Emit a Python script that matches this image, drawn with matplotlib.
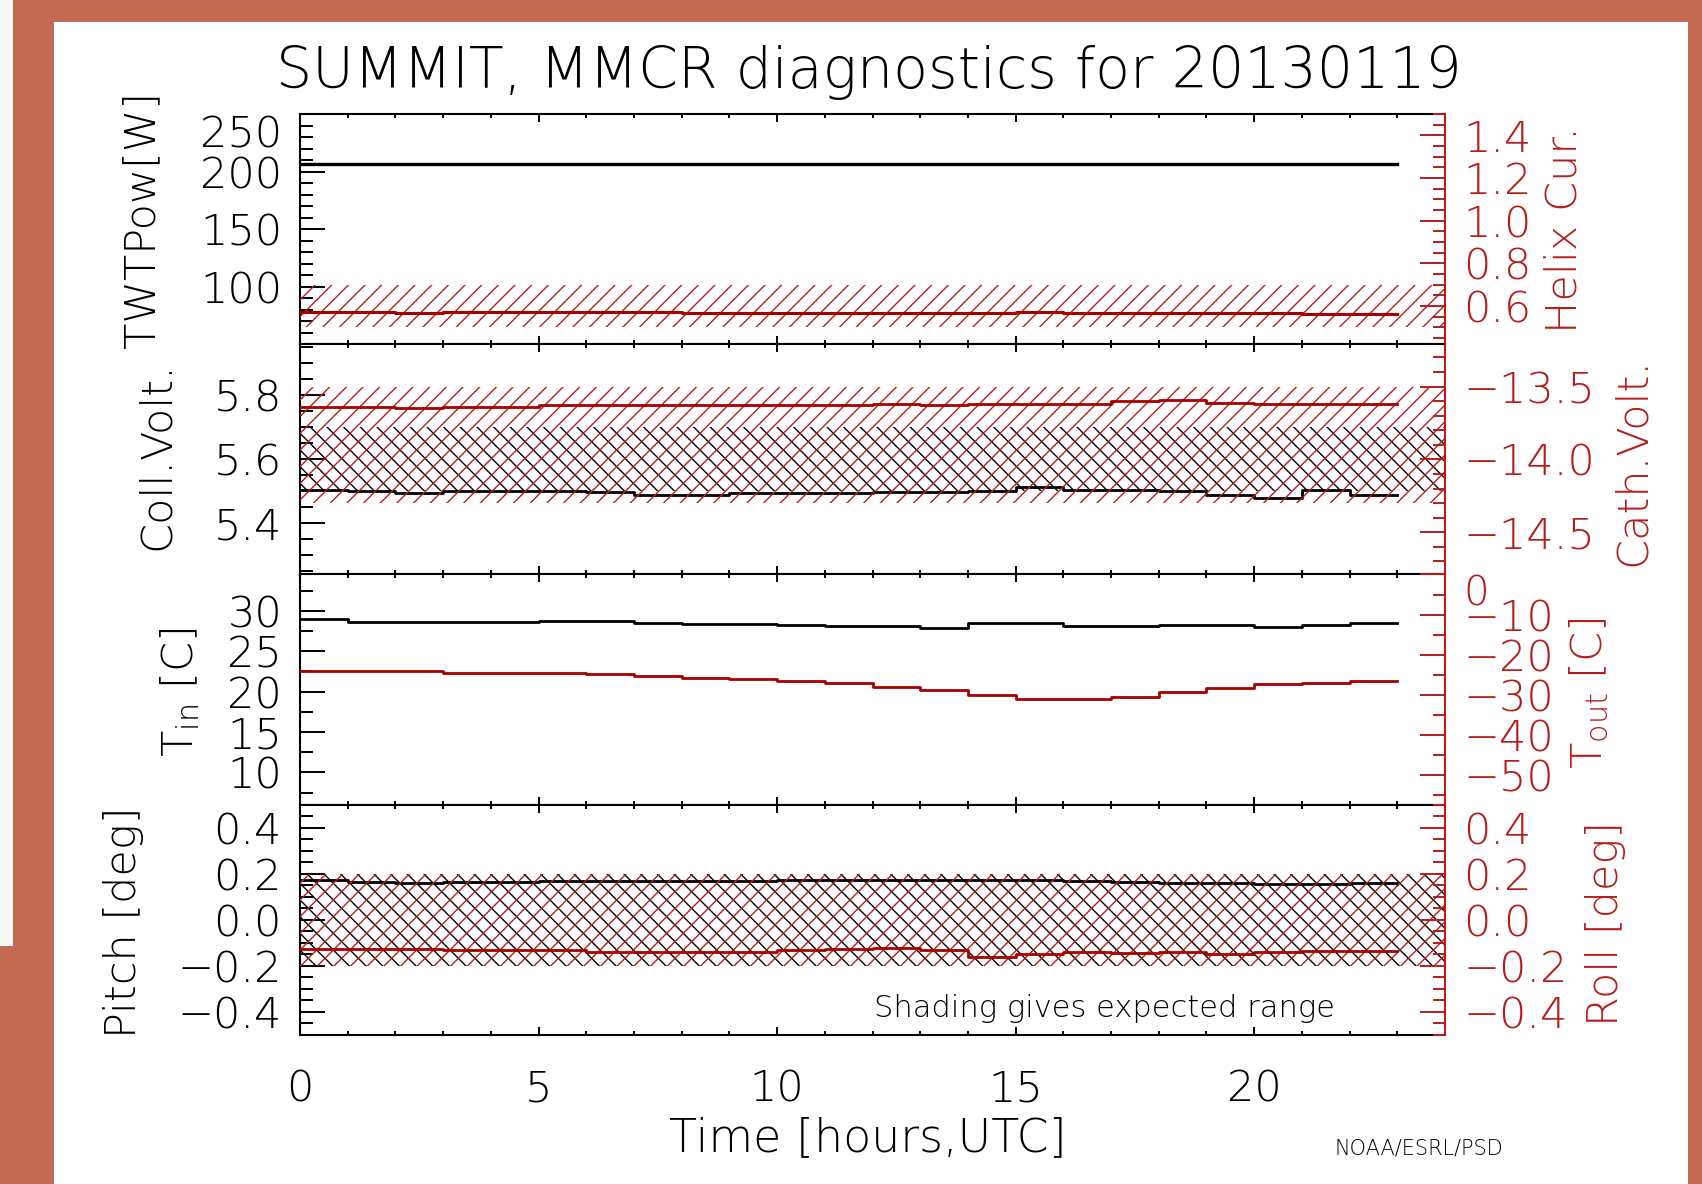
import matplotlib.pyplot as plt
from matplotlib.ticker import MultipleLocator
from matplotlib.patches import Rectangle

plt.rcParams['font.family'] = ['DejaVu Sans']
plt.rcParams['font.weight'] = 'light'
plt.rcParams['hatch.linewidth'] = 1.0

# hourly samples (UTC hour 0..23)
hours = [0, 1, 2, 3, 4, 5, 6, 7, 8, 9, 10, 11, 12, 13, 14, 15, 16, 17, 18, 19, 20, 21, 22, 23]
twt_pow = [207, 207, 207, 207, 207, 207, 207, 207, 207, 207, 207, 207,
           207, 207, 207, 207, 207, 207, 207, 207, 207, 207, 207, 207]
helix_cur = [0.572, 0.572, 0.565, 0.57, 0.57, 0.57, 0.572, 0.57, 0.568, 0.565, 0.565, 0.565,
             0.565, 0.565, 0.568, 0.57, 0.565, 0.565, 0.565, 0.565, 0.565, 0.562, 0.562, 0.562]
coll_volt = [5.505, 5.50, 5.494, 5.50, 5.50, 5.50, 5.498, 5.489, 5.489, 5.495, 5.495, 5.494,
             5.497, 5.497, 5.50, 5.513, 5.505, 5.505, 5.50, 5.49, 5.479, 5.505, 5.49, 5.49]
cath_volt = [-13.64, -13.64, -13.65, -13.64, -13.64, -13.63, -13.63, -13.63, -13.63, -13.63, -13.63, -13.63,
             -13.62, -13.63, -13.62, -13.62, -13.62, -13.60, -13.59, -13.61, -13.62, -13.62, -13.62, -13.62]
t_in = [29.0, 28.6, 28.6, 28.6, 28.6, 28.8, 28.8, 28.5, 28.4, 28.4, 28.3, 28.1,
        28.1, 27.9, 28.5, 28.5, 28.1, 28.1, 28.3, 28.3, 28.0, 28.3, 28.5, 28.5]
t_out = [-24.2, -24.0, -24.0, -24.5, -24.6, -24.7, -24.8, -25.3, -25.8, -26.2, -26.5, -27.2,
         -28.0, -28.9, -30.2, -31.0, -31.2, -30.6, -29.3, -28.3, -27.3, -27.0, -26.7, -26.7]
pitch = [0.172, 0.165, 0.16, 0.165, 0.165, 0.168, 0.168, 0.168, 0.17, 0.17, 0.175, 0.175,
         0.175, 0.172, 0.172, 0.175, 0.17, 0.165, 0.158, 0.16, 0.155, 0.155, 0.158, 0.155]
roll = [-0.125, -0.127, -0.127, -0.13, -0.13, -0.132, -0.14, -0.138, -0.14, -0.14, -0.132, -0.128,
        -0.12, -0.13, -0.16, -0.15, -0.14, -0.145, -0.14, -0.15, -0.14, -0.135, -0.135, -0.135]

# expected ranges (shaded)
helix_range = [0.5, 0.7]
coll_range = [5.5, 5.7]
cath_range = [-14.3, -13.5]
pitch_range = [-0.2, 0.2]
roll_range = [-0.2, 0.2]

RED = '#b51d1d'
LINE_RED = '#a50000'
W, H = 1702, 1184

fig = plt.figure(figsize=(W / 100, H / 100), dpi=100, facecolor='white')

# frame around the picture
def frame_box(x0, y0, x1, y1, color):
    fig.patches.append(Rectangle((x0 / W, 1 - y1 / H), (x1 - x0) / W, (y1 - y0) / H,
                                 transform=fig.transFigure, color=color, zorder=-5, lw=0))

frame_box(0, 0, 13, 946, '#f4faf6')
frame_box(0, 946, 54, H, '#c46a53')
frame_box(13, 0, 54, H, '#c46a53')
frame_box(13, 0, W, 22, '#c46a53')
frame_box(1688, 0, W, H, '#c46a53')

gs = fig.add_gridspec(4, 1, left=300 / W, right=1445 / W, bottom=1 - 1035 / H, top=1 - 114 / H, hspace=0)


def setup(ax, ax2, ylim, yticks, ylabels, yminor, ylim2, yticks2, ylabels2, yminor2):
    ax.set_xlim(0, 24)
    ax.xaxis.set_major_locator(MultipleLocator(5))
    ax.xaxis.set_minor_locator(MultipleLocator(1))
    ax.tick_params(axis='x', which='both', direction='in', top=True, bottom=True, width=1.4)
    ax.tick_params(axis='x', which='major', length=6)
    ax.tick_params(axis='x', which='minor', length=3)
    ax.set_ylim(ylim)
    ax.set_yticks(yticks, ylabels)
    ax.yaxis.set_minor_locator(MultipleLocator(yminor))
    ax.tick_params(axis='y', which='both', direction='in', labelsize=31, pad=13, width=1.4)
    ax.tick_params(axis='y', which='major', length=18)
    ax.tick_params(axis='y', which='minor', length=9)
    ax.spines['right'].set_visible(False)
    for s in ['left', 'top', 'bottom']:
        ax.spines[s].set_linewidth(1.5)
    ax2.set_ylim(ylim2)
    ax2.set_yticks(yticks2, ylabels2)
    ax2.yaxis.set_minor_locator(MultipleLocator(yminor2))
    ax2.tick_params(axis='y', which='both', direction='in', labelsize=31, pad=13, width=1.4,
                    color=RED, labelcolor=RED)
    ax2.tick_params(axis='y', which='major', length=18)
    ax2.tick_params(axis='y', which='minor', length=9)
    for s in ['left', 'top', 'bottom']:
        ax2.spines[s].set_visible(False)
    ax2.spines['right'].set_color(RED)
    ax2.spines['right'].set_linewidth(1.5)
    ax.tick_params(axis='x', labelbottom=False)


M = '\u2212'

# panel 1: TWT power / helix current
ax1 = fig.add_subplot(gs[0])
ax1b = ax1.twinx()
setup(ax1, ax1b, (50, 250), [50, 100, 150, 200, 250], ['', '100', '150', '200', '250'], 10,
      (0.42, 1.5), [0.6, 0.8, 1.0, 1.2, 1.4], ['0.6', '0.8', '1.0', '1.2', '1.4'], 0.05)
ax1.plot(hours, twt_pow, color='black', lw=2.4, drawstyle='steps-post')
ax1b.fill_between([0, 24], helix_range[0], helix_range[1], facecolor='none', edgecolor=RED, hatch='//', lw=0)
ax1b.plot(hours, helix_cur, color=LINE_RED, lw=2.2, drawstyle='steps-post')
ax1.yaxis.get_major_ticks()[-1].label1.set_va('top')

# panel 2: collector / cathode voltage
ax2 = fig.add_subplot(gs[1], sharex=ax1)
ax2b = ax2.twinx()
setup(ax2, ax2b, (5.24, 5.96), [5.4, 5.6, 5.8], ['5.4', '5.6', '5.8'], 0.05,
      (-14.79, -13.21), [-14.5, -14.0, -13.5], [M + '14.5', M + '14.0', M + '13.5'], 0.1)
ax2.fill_between([0, 24], coll_range[0], coll_range[1], facecolor='none', edgecolor='black', hatch='\\\\', lw=0)
ax2.plot(hours, coll_volt, color='black', lw=2.0, drawstyle='steps-post')
ax2b.fill_between([0, 24], cath_range[0], cath_range[1], facecolor='none', edgecolor=RED, hatch='//', lw=0)
ax2b.plot(hours, cath_volt, color=LINE_RED, lw=2.0, drawstyle='steps-post')

# panel 3: inside / outside temperature
ax3 = fig.add_subplot(gs[2], sharex=ax1)
ax3b = ax3.twinx()
setup(ax3, ax3b, (6, 34.5), [10, 15, 20, 25, 30], ['10', '15', '20', '25', '30'], 2.5,
      (-57.5, 0), [-50, -40, -30, -20, -10, 0], [M + '50', M + '40', M + '30', M + '20', M + '10', '0'], 5)
ax3.plot(hours, t_in, color='black', lw=2.0, drawstyle='steps-post')
ax3b.plot(hours, t_out, color=LINE_RED, lw=2.0, drawstyle='steps-post')
top_zero = ax3b.yaxis.get_major_ticks()[-1].label2
top_zero.set_va('top')
top_zero.set_fontsize(29)

# panel 4: pitch / roll
ax4 = fig.add_subplot(gs[3], sharex=ax1)
ax4b = ax4.twinx()
pr_ticks = [-0.4, -0.2, 0.0, 0.2, 0.4]
pr_labels = [M + '0.4', M + '0.2', '0.0', '0.2', '0.4']
setup(ax4, ax4b, (-0.5, 0.5), pr_ticks, pr_labels, 0.05,
      (-0.5, 0.5), pr_ticks, pr_labels, 0.05)
ax4.fill_between([0, 24], pitch_range[0], pitch_range[1], facecolor='none', edgecolor='black', hatch='\\\\', lw=0)
ax4.plot(hours, pitch, color='black', lw=2.0, drawstyle='steps-post')
ax4b.fill_between([0, 24], roll_range[0], roll_range[1], facecolor='none', edgecolor=RED, hatch='//', lw=0)
ax4b.plot(hours, roll, color=LINE_RED, lw=2.0, drawstyle='steps-post')
ax4.tick_params(axis='x', labelbottom=True, labelsize=31, pad=24)
ax4.text(0.703, 0.117, 'Shading gives expected range', transform=ax4.transAxes,
         ha='center', va='center', fontsize=22)

# labels placed by pixel position of the original
def ftext(x, y, s, **kw):
    fig.text(x / W, 1 - y / H, s, ha='center', va='center', **kw)

ftext(869, 72, 'SUMMIT, MMCR diagnostics for 20130119', fontsize=41)
ftext(868, 1138, 'Time [hours,UTC]', fontsize=33)
ftext(1419, 1148, 'NOAA/ESRL/PSD', fontsize=15)
ftext(142, 220, 'TWTPow[W]', fontsize=31, rotation=90)
ftext(156, 456, 'Coll.Volt.', fontsize=31, rotation=90)
ftext(180, 692, r'T$_{\rm in}$ [C]', fontsize=31, rotation=90)
ftext(124, 922, 'Pitch [deg]', fontsize=31, rotation=90)
ftext(1564, 230, 'Helix Cur.', fontsize=31, rotation=90, color=RED)
ftext(1632, 462, 'Cath.Volt.', fontsize=31, rotation=90, color=RED)
ftext(1589, 693, r'T$_{\rm out}$ [C]', fontsize=31, rotation=90, color=RED)
ftext(1605, 923, 'Roll [deg]', fontsize=31, rotation=90, color=RED)

fig.savefig('out.png', dpi=100, facecolor='white')
